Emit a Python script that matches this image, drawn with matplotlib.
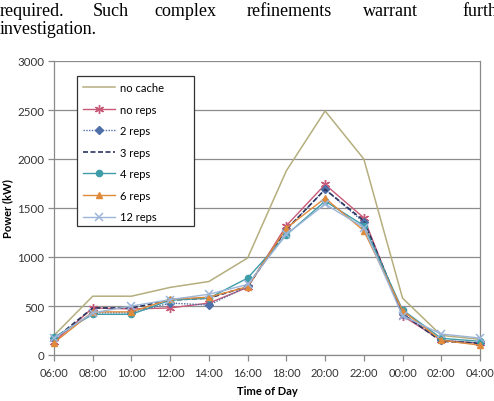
import matplotlib
matplotlib.use("Agg")
import matplotlib.pyplot as plt
from matplotlib.patches import Rectangle
import numpy as np

times = ["06:00", "08:00", "10:00", "12:00", "14:00", "16:00", "18:00",
         "20:00", "22:00", "00:00", "02:00", "04:00"]
no_cache = [200, 600, 600, 690, 750, 990, 1880, 2490, 2000, 580, 200, 160]
no_reps = [135, 480, 470, 480, 530, 690, 1320, 1740, 1400, 400, 150, 120]
reps_2 = [170, 430, 430, 530, 510, 700, 1280, 1690, 1355, 420, 150, 120]
reps_3 = [160, 480, 480, 560, 580, 700, 1280, 1690, 1370, 420, 140, 120]
reps_4 = [180, 415, 415, 560, 580, 785, 1225, 1570, 1320, 460, 170, 140]
reps_6 = [125, 440, 440, 570, 590, 697, 1295, 1600, 1268, 452, 150, 100]
reps_12 = [170, 430, 500, 565, 620, 720, 1230, 1540, 1300, 400, 214, 173]

series = [
    ("no cache", no_cache, dict(color="#B5AE7E", lw=1.1, ls="-", marker=None)),
    ("no reps", no_reps, dict(color="#C85A78", lw=1.0, ls="-", marker=(6, 2, 0), ms=6.5, mew=1.0)),
    ("2 reps", reps_2, dict(color="#4F6FA8", lw=1.0, ls=(0, (1, 1)), marker="D", ms=4)),
    ("3 reps", reps_3, dict(color="#2B3560", lw=1.2, ls=(0, (3, 1.5)), marker=None)),
    ("4 reps", reps_4, dict(color="#3E9DA8", lw=1.0, ls="-", marker="o", ms=4.5)),
    ("6 reps", reps_6, dict(color="#E08A3C", lw=1.0, ls="-", marker="^", ms=5)),
    ("12 reps", reps_12, dict(color="#9DB5D8", lw=1.0, ls="-", marker="x", ms=5.5, mew=1.1)),
]

fig = plt.figure(figsize=(4.94, 4.02), dpi=100)

# body text from the page above the figure
serif = "Liberation Serif"
words = [("required.", 0), ("Such", 92.7), ("complex", 154), ("refinements", 247),
         ("warrant", 363), ("further", 462)]
for w, xp in words:
    fig.text(xp / 494, 1 - 15.5 / 402, w, fontsize=13, family=serif,
             ha="left", va="baseline")
fig.text(0, 1 - 34 / 402, "investigation.", fontsize=13, family=serif,
         ha="left", va="baseline")

ax = fig.add_axes([54 / 494, (402 - 356) / 402, 426 / 494, 294 / 402])
x = np.arange(len(times))
for name, vals, st in series:
    ax.plot(x, vals, label=name, color=st["color"], lw=st["lw"], ls=st["ls"],
            marker=st["marker"], ms=st.get("ms", 5), mew=st.get("mew", 1.0),
            mec=st["color"], mfc=st["color"], zorder=3, clip_on=False)

font = "Lato"
ax.set_xlim(0, len(times) - 1)
ax.set_ylim(0, 3000)
ax.set_yticks(np.arange(0, 3001, 500))
ax.set_xticks(x)
ax.set_xticklabels(times, fontsize=8, family=font, color="#333333")
ax.set_yticklabels([str(v) for v in range(0, 3001, 500)], fontsize=8.3,
                   family=font, color="#333333")
ax.grid(axis="y", color="#8C8C8C", lw=0.9)
ax.set_axisbelow(True)
for s in ["left", "bottom", "right"]:
    ax.spines[s].set_color("#8A8A8A")
    ax.spines[s].set_linewidth(0.9)
ax.spines["top"].set_visible(False)
ax.tick_params(axis="both", direction="out", length=4, color="#8A8A8A", width=0.9, pad=3)
ax.tick_params(axis="x", pad=5)

ax.set_xlabel("Time of Day", fontsize=8, family=font, fontweight="bold", labelpad=5)
ax.set_ylabel("Power (kW)", fontsize=8, family=font, fontweight="bold")
ax.yaxis.set_label_coords(-(54 - 13) / 426, 0.5)

# legend frame (Excel-style wider box)
frame = Rectangle(((77 - 54) / 426, (356 - 227) / 294), (194 - 77) / 426, 150 / 294,
                  transform=ax.transAxes, facecolor="white", edgecolor="#333333",
                  lw=0.9, zorder=4)
ax.add_patch(frame)
leg = ax.legend(loc="upper left", bbox_to_anchor=((77 - 54) / 426, (356 - 77) / 294),
                prop={"family": font, "size": 8}, frameon=False,
                labelspacing=0.95, handlelength=2.9, handletextpad=0.4,
                borderpad=0.55, borderaxespad=0)
leg.set_zorder(5)

fig.savefig("out.png", dpi=100, facecolor="white")
